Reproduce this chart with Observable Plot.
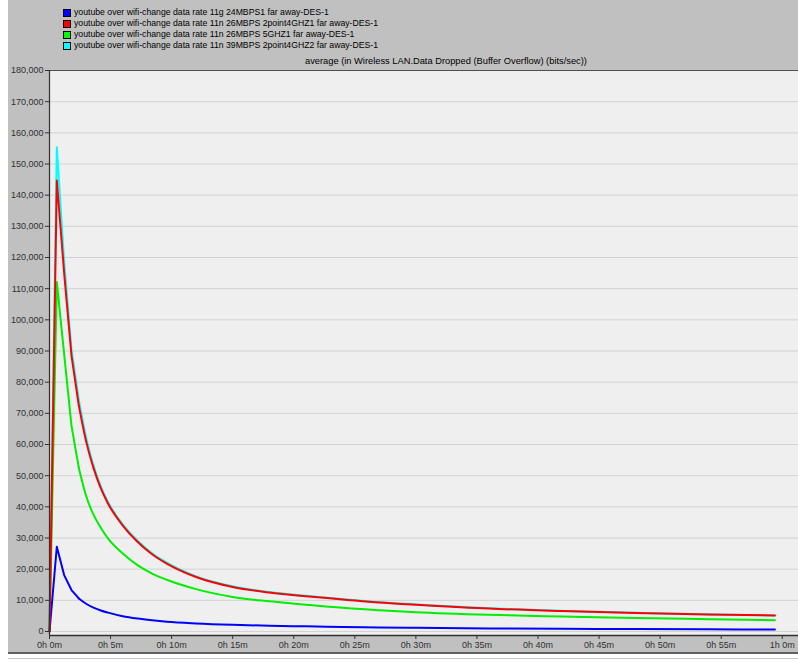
<!DOCTYPE html>
<html>
<head>
<meta charset="utf-8">
<script src="https://cdn.jsdelivr.net/npm/d3@7"></script>
<script src="https://cdn.jsdelivr.net/npm/@observablehq/plot@0.6"></script>
<style>
  html, body { margin: 0; padding: 0; background: #ffffff; }
  #page { position: relative; width: 798px; height: 662px; overflow: hidden; font-family: "Liberation Sans", Arial, sans-serif; }
  #panel { position: absolute; left: 8px; top: 0; width: 790px; height: 652px; background: #c0c0c0; }
  #chart { position: absolute; left: 0; top: 0; }
  #legend { position: absolute; left: 63px; top: 7px; font-size: 8.7px; color: #000; }
  .row { height: 11px; line-height: 11px; white-space: nowrap; display: flex; align-items: center; }
  .sw { width: 6px; height: 6px; border: 1px solid #000; margin-right: 3px; flex: none; }
  #title { position: absolute; left: 305px; top: 56px; font-size: 9.3px; color: #000; white-space: nowrap; }
  #bottomdark { position: absolute; left: 8px; top: 652px; width: 790px; height: 2px; background: #606060; }
  #bottomlight { position: absolute; left: 8px; top: 658px; width: 790px; height: 1px; background: #c8c8c8; }
</style>
</head>
<body>
<div id="page">
  <div id="panel"></div>
  <div id="chart"></div>
  <div id="legend"></div>
  <div id="title"></div>
  <div id="bottomdark"></div>
  <div id="bottomlight"></div>
</div>
<script>
// ---- data ----
const seriesNames = [
  "youtube over wifi-change data rate 11g 24MBPS1 far away-DES-1",
  "youtube over wifi-change data rate 11n 26MBPS 2point4GHZ1 far away-DES-1",
  "youtube over wifi-change data rate 11n 26MBPS 5GHZ1 far away-DES-1",
  "youtube over wifi-change data rate 11n 39MBPS 2point4GHZ2 far away-DES-1"
];
const seriesColors = ["#0000ff", "#ff0000", "#00ee00", "#00ffff"];
const swatchColors = ["#0000ff", "#ff0000", "#00ff00", "#00ffff"];
const titleText = "average (in Wireless LAN.Data Dropped (Buffer Overflow) (bits/sec))";

// time in minutes
const times = [0, 0.6, 1.2, 1.8, 2.4, 3.0, 3.6, 4.2, 4.8, 6, 7.2, 8.4, 9.6, 12, 15, 18, 21, 24, 27, 30, 36, 42, 48, 54, 59.4];
const blue  = [0, 27200, 18100, 13300, 10600, 8900, 7650, 6750, 6050, 4900, 4150, 3600, 3150, 2600, 2150, 1850, 1650, 1480, 1320, 1180, 990, 860, 770, 700, 640];
const red   = [0, 144700, 115000, 88500, 72500, 61000, 52500, 46000, 41000, 34000, 28800, 24800, 21800, 17500, 14300, 12500, 11300, 10300, 9300, 8600, 7350, 6550, 5950, 5450, 5130];
const green = [0, 112100, 89000, 66000, 52500, 43500, 37500, 33300, 29800, 25000, 21300, 18600, 16600, 13600, 11100, 9700, 8600, 7600, 6850, 6200, 5350, 4800, 4300, 3950, 3640];
const cyan  = [0, 155400, 118500, 90500, 74300, 62200, 53300, 46600, 41500, 34400, 29200, 25100, 22100, 17700, 14500, 12650, 11450, 10420, 9420, 8700, 7430, 6600, 5980, 5470, 5150];

const yTicks = d3.range(0, 180001, 10000);
const xTicks = d3.range(0, 61, 5);

// ---- build table ----
const seriesValues = [blue, red, green, cyan];
const rows = [];
seriesValues.forEach((vals, i) => vals.forEach((v, j) => rows.push({t: times[j], v, s: seriesNames[i]})));
const drawOrder = [3, 2, 0, 1]; // cyan behind, red on top
const splitT = 2.4; // sampled segments drawn straight near the peak, smooth decay after

const fmtTime = d => `${Math.floor(d / 60)}h ${d % 60}m`;

const lineMarks = [];
drawOrder.forEach(i => {
  const sRows = rows.filter(r => r.s === seriesNames[i]);
  lineMarks.push(Plot.line(sRows.filter(r => r.t <= splitT), {x: "t", y: "v", stroke: seriesColors[i], strokeWidth: 2, curve: "linear"}));
  lineMarks.push(Plot.line(sRows.filter(r => r.t >= splitT), {x: "t", y: "v", stroke: seriesColors[i], strokeWidth: 2, curve: "monotone-x"}));
});

const chart = Plot.plot({
  width: 798,
  height: 652,
  marginLeft: 49,
  marginRight: 0,
  marginTop: 70,
  marginBottom: 17,
  style: {background: "transparent", fontFamily: "'Liberation Sans', Arial, sans-serif", fontSize: "9px", color: "#303030", overflow: "visible"},
  x: {domain: [0, 61.33], label: null},
  y: {domain: [-1283, 180000], label: null},
  marks: [
    Plot.frame({fill: "#efefef", stroke: null}),
    Plot.gridY(yTicks, {stroke: "#d2d2d2", strokeOpacity: 1, strokeWidth: 1}),
    ...lineMarks,
    Plot.ruleY([180000], {stroke: "#505050", strokeWidth: 1}),
    Plot.ruleX([0], {stroke: "#303030", strokeWidth: 1.2}),
    Plot.ruleY([-1283], {stroke: "#303030", strokeWidth: 1.5}),
    Plot.axisY(yTicks, {tickFormat: d3.format(","), tickSize: 4, tickPadding: 2, label: null, stroke: "#303030", fill: "#303030"}),
    Plot.axisX(xTicks, {tickFormat: fmtTime, tickSize: 4, tickPadding: 2, label: null, stroke: "#303030", fill: "#303030"})
  ]
});
document.getElementById("chart").appendChild(chart);

// legend
const legend = document.getElementById("legend");
seriesNames.forEach((name, i) => {
  const row = document.createElement("div");
  row.className = "row";
  const sw = document.createElement("span");
  sw.className = "sw";
  sw.style.background = swatchColors[i];
  const tx = document.createElement("span");
  tx.textContent = name;
  row.appendChild(sw);
  row.appendChild(tx);
  legend.appendChild(row);
});
document.getElementById("title").textContent = titleText;
</script>
</body>
</html>
